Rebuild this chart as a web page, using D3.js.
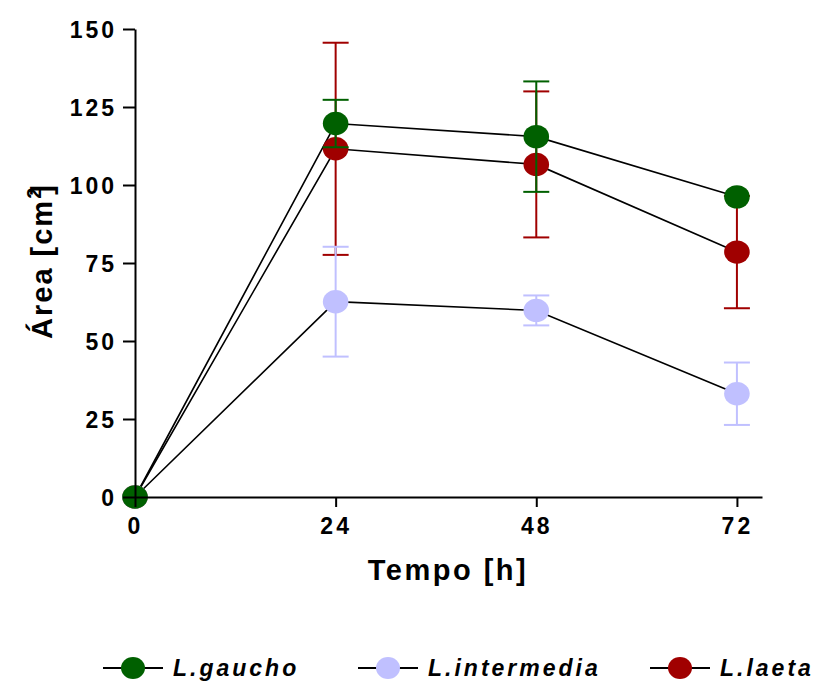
<!DOCTYPE html>
<html>
<head>
<meta charset="utf-8">
<script src="https://cdn.jsdelivr.net/npm/d3@7"></script>
<style>
  body { margin: 0; background: #fff; }
  svg { display: block; font-family: "Liberation Sans", Arial, sans-serif; }
</style>
</head>
<body>
<div id="chart"></div>
<script>
// data
const times = [0, 24, 48, 72];
const yTicks = [0, 25, 50, 75, 100, 125, 150];
const seriesNames = ["L.gaucho", "L.intermedia", "L.laeta"];
const gauchoMean = [0, 119.7, 115.5, 96.2];
const gauchoErr = [0, 7.6, 17.7, 0];
const intermediaMean = [0, 62.6, 59.8, 33.1];
const intermediaErr = [0, 17.6, 4.8, 10];
const laetaMean = [0, 111.6, 106.6, 78.5];
const laetaErr = [0, 34, 23.4, 18];
const colors = { "L.gaucho": "#006000", "L.intermedia": "#c0c0ff", "L.laeta": "#a00000" };

const series = [
  { name: "L.gaucho", mean: gauchoMean, err: gauchoErr },
  { name: "L.intermedia", mean: intermediaMean, err: intermediaErr },
  { name: "L.laeta", mean: laetaMean, err: laetaErr }
];

const W = 815, H = 681;
const svg = d3.select("#chart").append("svg")
  .attr("width", W).attr("height", H);

const x = d3.scaleLinear().domain([0, 75]).range([135, 762]);
const y = d3.scaleLinear().domain([0, 150]).range([497, 29]);

const pts = s => times.map((t, i) => ({ t, v: s.mean[i], e: s.err[i] }));

// connecting lines
const line = d3.line().x(d => x(d.t)).y(d => y(d.v));
svg.append("g").selectAll("path")
  .data(series)
  .join("path")
  .attr("d", s => line(pts(s)))
  .attr("fill", "none")
  .attr("stroke", "#000")
  .attr("stroke-width", 1.6);

// error bars + markers, drawn laeta, intermedia, gaucho
const drawOrder = ["L.laeta", "L.intermedia", "L.gaucho"];
drawOrder.forEach(name => {
  const s = series.find(d => d.name === name);
  const g = svg.append("g");
  const c = colors[name];
  const p = pts(s).filter(d => d.e > 0);
  g.selectAll("line.stem").data(p).join("line")
    .attr("x1", d => x(d.t)).attr("x2", d => x(d.t))
    .attr("y1", d => y(d.v + d.e)).attr("y2", d => y(d.v - d.e))
    .attr("stroke", c).attr("stroke-width", 2);
  g.selectAll("line.capTop").data(p).join("line")
    .attr("x1", d => x(d.t) - 13).attr("x2", d => x(d.t) + 13)
    .attr("y1", d => y(d.v + d.e)).attr("y2", d => y(d.v + d.e))
    .attr("stroke", c).attr("stroke-width", 2);
  g.selectAll("line.capBot").data(p).join("line")
    .attr("x1", d => x(d.t) - 13).attr("x2", d => x(d.t) + 13)
    .attr("y1", d => y(d.v - d.e)).attr("y2", d => y(d.v - d.e))
    .attr("stroke", c).attr("stroke-width", 2);
  g.selectAll("ellipse").data(pts(s)).join("ellipse")
    .attr("cx", d => x(d.t)).attr("cy", d => y(d.v))
    .attr("rx", 12.8).attr("ry", 11.7)
    .attr("fill", c);
});

// axes
const yAxis = svg.append("g")
  .attr("transform", `translate(${x(0)},0)`)
  .call(d3.axisLeft(y).tickValues(yTicks).tickSize(12).tickSizeOuter(0).tickPadding(6));
const xAxis = svg.append("g")
  .attr("transform", `translate(0,${y(0)})`)
  .call(d3.axisBottom(x).tickValues(times).tickSize(10).tickSizeOuter(0).tickPadding(11));

[yAxis, xAxis].forEach(a => {
  a.select(".domain").attr("stroke", "#000").attr("stroke-width", 2);
  a.selectAll(".tick line").attr("stroke", "#000").attr("stroke-width", 2);
  a.selectAll(".tick text")
    .attr("fill", "#000")
    .style("font-family", "'Liberation Sans', Arial, sans-serif")
    .style("font-size", "23px")
    .style("font-weight", "bold")
    .style("letter-spacing", "3px");
});
yAxis.selectAll(".tick text").attr("dy", "0.36em");

// axis titles
svg.append("text")
  .attr("x", 448).attr("y", 580)
  .attr("text-anchor", "middle")
  .style("font-size", "29px").style("font-weight", "bold")
  .style("letter-spacing", "2.5px")
  .text("Tempo [h]");

const yl = svg.append("text")
  .attr("transform", "translate(52,261) rotate(-90)")
  .attr("text-anchor", "middle")
  .style("font-size", "29px").style("font-weight", "bold")
  .style("letter-spacing", "2px");
yl.append("tspan").text("Área [cm");
yl.append("tspan").attr("dy", -11).style("font-size", "20px").text("2");
yl.append("tspan").attr("dy", 11).attr("dx", -9).text("]");

// legend
const legendX = [133, 388, 680];
const legend = svg.append("g").selectAll("g")
  .data(seriesNames)
  .join("g")
  .attr("transform", (d, i) => `translate(${legendX[i]},668)`);
legend.append("line")
  .attr("x1", -30).attr("x2", 30)
  .attr("stroke", "#000").attr("stroke-width", 2);
legend.append("ellipse")
  .attr("rx", 12).attr("ry", 11)
  .attr("fill", d => colors[d]);
legend.append("text")
  .attr("x", 40).attr("y", 8)
  .style("font-size", "23px").style("font-weight", "bold").style("font-style", "italic")
  .style("letter-spacing", "3px")
  .text(d => d);
</script>
</body>
</html>
